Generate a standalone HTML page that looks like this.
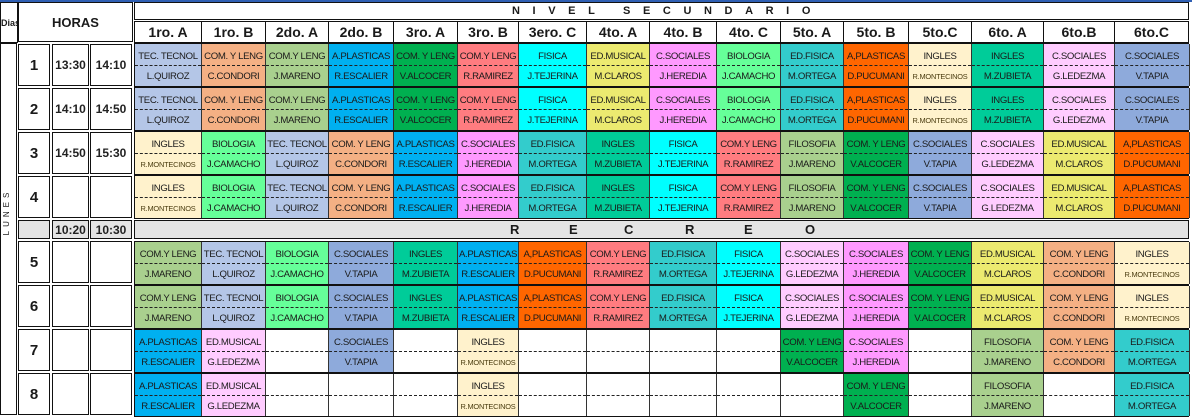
<!DOCTYPE html>
<html><head><meta charset="utf-8"><style>
*{box-sizing:border-box}
body{margin:0;width:1192px;height:413px;overflow:hidden;background:#fff;position:relative;font-family:"Liberation Sans",sans-serif;color:#1a1a1a}
.a{position:absolute;border:1px solid #111;display:flex;align-items:center;justify-content:center;white-space:nowrap;overflow:hidden}
.r{position:absolute;left:134px;width:1055px;height:44px;border-top:1px solid #111;border-bottom:1px solid #111;border-left:1px solid #111;display:grid;grid-template-columns:67px 64px 63px 65px 64px 61px 68px 63px 67px 64px 63px 65px 63px 72px 71px 75px}
.r>div{border-right:1px solid #333;overflow:hidden;display:flex;flex-direction:column}
.r p{margin:0;height:50%;display:flex;align-items:center;justify-content:center;font-size:9.6px;letter-spacing:-0.35px;white-space:nowrap}
.r p:first-child{padding-top:3px}
.r p+p{border-top:1px dashed #222}
.r p.s{font-size:7.4px;letter-spacing:-0.2px;color:#4a3c10}
.tt{background:#b4c6e7}.cc{background:#f4b084}.jm{background:#a9d08e}.re{background:#00b0f0}
.va{background:#00b050}.rr{background:#ff7c80}.jt{background:#00ffff}.mc{background:#ecea70}
.jh{background:#ff99ff}.jc{background:#66ff99}.mo{background:#33cccc}.dp{background:#ff6600}
.rm{background:#fff2cc}.mz{background:#00cc99}.gl{background:#ffccff}.vt{background:#8eaadb}.e{background:#fff}
.h{font-weight:bold;font-size:14px}
.n{font-weight:bold;font-size:15px}
.t{font-size:12px;font-weight:bold;color:#222}
</style></head><body>
<div style="position:absolute;left:0;top:0;width:1192px;height:2px;background:#2f5fb3"></div>
<div class="a" style="left:0;top:2px;width:18px;height:41px;font-size:9px;font-weight:bold;justify-content:flex-start">Dias</div>
<div class="a" style="left:18px;top:2px;width:115px;height:40px;font-weight:bold;font-size:13px">HORAS</div>
<div class="a" style="left:134px;top:2px;width:1055px;height:18px;font-weight:bold;font-size:11px;letter-spacing:12.6px;padding-left:12px">NIVEL&nbsp;SECUNDARIO</div>
<div class="a h" style="left:134px;top:21px;width:68px;height:22px">1ro. A</div>
<div class="a h" style="left:201px;top:21px;width:65px;height:22px">1ro. B</div>
<div class="a h" style="left:265px;top:21px;width:64px;height:22px">2do. A</div>
<div class="a h" style="left:328px;top:21px;width:66px;height:22px">2do. B</div>
<div class="a h" style="left:393px;top:21px;width:65px;height:22px">3ro. A</div>
<div class="a h" style="left:457px;top:21px;width:62px;height:22px">3ro. B</div>
<div class="a h" style="left:518px;top:21px;width:69px;height:22px">3ero. C</div>
<div class="a h" style="left:586px;top:21px;width:64px;height:22px">4to. A</div>
<div class="a h" style="left:649px;top:21px;width:68px;height:22px">4to. B</div>
<div class="a h" style="left:716px;top:21px;width:65px;height:22px">4to. C</div>
<div class="a h" style="left:780px;top:21px;width:64px;height:22px">5to. A</div>
<div class="a h" style="left:843px;top:21px;width:66px;height:22px">5to. B</div>
<div class="a h" style="left:908px;top:21px;width:64px;height:22px">5to.C</div>
<div class="a h" style="left:971px;top:21px;width:73px;height:22px">6to. A</div>
<div class="a h" style="left:1043px;top:21px;width:72px;height:22px">6to.B</div>
<div class="a h" style="left:1114px;top:21px;width:75px;height:22px">6to.C</div>

<div class="a" style="left:0;top:43px;width:17px;height:372px"></div>
<div style="position:absolute;left:-17px;top:206px;width:50px;height:12px;transform:rotate(-90deg);font-size:8px;letter-spacing:4px;text-align:center">LUNES</div>

<!-- left cells -->
<div class="a n" style="left:18px;top:44px;width:32px;height:42px">1</div><div class="a t" style="left:52px;top:44px;width:37px;height:42px">13:30</div><div class="a t" style="left:90px;top:44px;width:42px;height:42px">14:10</div>
<div class="a n" style="left:18px;top:88px;width:32px;height:42px">2</div><div class="a t" style="left:52px;top:88px;width:37px;height:42px">14:10</div><div class="a t" style="left:90px;top:88px;width:42px;height:42px">14:50</div>
<div class="a n" style="left:18px;top:132px;width:32px;height:42px">3</div><div class="a t" style="left:52px;top:132px;width:37px;height:42px">14:50</div><div class="a t" style="left:90px;top:132px;width:42px;height:42px">15:30</div>
<div class="a n" style="left:18px;top:176px;width:32px;height:42px">4</div><div class="a" style="left:52px;top:176px;width:37px;height:42px"></div><div class="a" style="left:90px;top:176px;width:42px;height:42px"></div>
<div class="a" style="left:18px;top:220px;width:32px;height:19px;background:#e4e4e4"></div><div class="a t" style="left:52px;top:220px;width:37px;height:19px;background:#e4e4e4">10:20</div><div class="a t" style="left:90px;top:220px;width:42px;height:19px;background:#e4e4e4">10:30</div>
<div class="a n" style="left:18px;top:241px;width:32px;height:42px">5</div><div class="a" style="left:52px;top:241px;width:37px;height:42px"></div><div class="a" style="left:90px;top:241px;width:42px;height:42px"></div>
<div class="a n" style="left:18px;top:285px;width:32px;height:42px">6</div><div class="a" style="left:52px;top:285px;width:37px;height:42px"></div><div class="a" style="left:90px;top:285px;width:42px;height:42px"></div>
<div class="a n" style="left:18px;top:329px;width:32px;height:42px">7</div><div class="a" style="left:52px;top:329px;width:37px;height:42px"></div><div class="a" style="left:90px;top:329px;width:42px;height:42px"></div>
<div class="a n" style="left:18px;top:373px;width:32px;height:42px">8</div><div class="a" style="left:52px;top:373px;width:37px;height:42px"></div><div class="a" style="left:90px;top:373px;width:42px;height:42px"></div>

<!-- recreo -->
<div class="a" style="left:134px;top:220px;width:1055px;height:19px;background:#e4e4e4"></div>
<div style="position:absolute;top:220px;height:19px;line-height:19px;font-weight:bold;font-size:13px;left:510px">R</div>
<div style="position:absolute;top:220px;height:19px;line-height:19px;font-weight:bold;font-size:13px;left:569px">E</div>
<div style="position:absolute;top:220px;height:19px;line-height:19px;font-weight:bold;font-size:13px;left:624px">C</div>
<div style="position:absolute;top:220px;height:19px;line-height:19px;font-weight:bold;font-size:13px;left:685px">R</div>
<div style="position:absolute;top:220px;height:19px;line-height:19px;font-weight:bold;font-size:13px;left:744px">E</div>
<div style="position:absolute;top:220px;height:19px;line-height:19px;font-weight:bold;font-size:13px;left:805px">O</div>

<div class="r" style="top:43px">
<div class="tt"><p>TEC. TECNOL</p><p>L.QUIROZ</p></div><div class="cc"><p>COM. Y LENG</p><p>C.CONDORI</p></div><div class="jm"><p>COM.Y LENG</p><p>J.MARENO</p></div><div class="re"><p>A.PLASTICAS</p><p>R.ESCALIER</p></div><div class="va"><p>COM. Y LENG</p><p>V.ALCOCER</p></div><div class="rr"><p>COM.Y LENG</p><p>R.RAMIREZ</p></div><div class="jt"><p>FISICA</p><p>J.TEJERINA</p></div><div class="mc"><p>ED.MUSICAL</p><p>M.CLAROS</p></div><div class="jh"><p>C.SOCIALES</p><p>J.HEREDIA</p></div><div class="jc"><p>BIOLOGIA</p><p>J.CAMACHO</p></div><div class="mo"><p>ED.FISICA</p><p>M.ORTEGA</p></div><div class="dp"><p>A,PLASTICAS</p><p>D.PUCUMANI</p></div><div class="rm"><p>INGLES</p><p class="s">R.MONTECINOS</p></div><div class="mz"><p>INGLES</p><p>M.ZUBIETA</p></div><div class="gl"><p>C.SOCIALES</p><p>G.LEDEZMA</p></div><div class="vt"><p>C.SOCIALES</p><p>V.TAPIA</p></div>
</div>
<div class="r" style="top:87px">
<div class="tt"><p>TEC. TECNOL</p><p>L.QUIROZ</p></div><div class="cc"><p>COM. Y LENG</p><p>C.CONDORI</p></div><div class="jm"><p>COM.Y LENG</p><p>J.MARENO</p></div><div class="re"><p>A.PLASTICAS</p><p>R.ESCALIER</p></div><div class="va"><p>COM. Y LENG</p><p>V.ALCOCER</p></div><div class="rr"><p>COM.Y LENG</p><p>R.RAMIREZ</p></div><div class="jt"><p>FISICA</p><p>J.TEJERINA</p></div><div class="mc"><p>ED.MUSICAL</p><p>M.CLAROS</p></div><div class="jh"><p>C.SOCIALES</p><p>J.HEREDIA</p></div><div class="jc"><p>BIOLOGIA</p><p>J.CAMACHO</p></div><div class="mo"><p>ED.FISICA</p><p>M.ORTEGA</p></div><div class="dp"><p>A,PLASTICAS</p><p>D.PUCUMANI</p></div><div class="rm"><p>INGLES</p><p class="s">R.MONTECINOS</p></div><div class="mz"><p>INGLES</p><p>M.ZUBIETA</p></div><div class="gl"><p>C.SOCIALES</p><p>G.LEDEZMA</p></div><div class="vt"><p>C.SOCIALES</p><p>V.TAPIA</p></div>
</div>
<div class="r" style="top:131px">
<div class="rm"><p>INGLES</p><p class="s">R.MONTECINOS</p></div><div class="jc"><p>BIOLOGIA</p><p>J.CAMACHO</p></div><div class="tt"><p>TEC. TECNOL</p><p>L.QUIROZ</p></div><div class="cc"><p>COM. Y LENG</p><p>C.CONDORI</p></div><div class="re"><p>A.PLASTICAS</p><p>R.ESCALIER</p></div><div class="jh"><p>C.SOCIALES</p><p>J.HEREDIA</p></div><div class="mo"><p>ED.FISICA</p><p>M.ORTEGA</p></div><div class="mz"><p>INGLES</p><p>M.ZUBIETA</p></div><div class="jt"><p>FISICA</p><p>J.TEJERINA</p></div><div class="rr"><p>COM.Y LENG</p><p>R.RAMIREZ</p></div><div class="jm"><p>FILOSOFIA</p><p>J.MARENO</p></div><div class="va"><p>COM. Y LENG</p><p>V.ALCOCER</p></div><div class="vt"><p>C.SOCIALES</p><p>V.TAPIA</p></div><div class="gl"><p>C.SOCIALES</p><p>G.LEDEZMA</p></div><div class="mc"><p>ED.MUSICAL</p><p>M.CLAROS</p></div><div class="dp"><p>A,PLASTICAS</p><p>D.PUCUMANI</p></div>
</div>
<div class="r" style="top:175px">
<div class="rm"><p>INGLES</p><p class="s">R.MONTECINOS</p></div><div class="jc"><p>BIOLOGIA</p><p>J.CAMACHO</p></div><div class="tt"><p>TEC. TECNOL</p><p>L.QUIROZ</p></div><div class="cc"><p>COM. Y LENG</p><p>C.CONDORI</p></div><div class="re"><p>A.PLASTICAS</p><p>R.ESCALIER</p></div><div class="jh"><p>C.SOCIALES</p><p>J.HEREDIA</p></div><div class="mo"><p>ED.FISICA</p><p>M.ORTEGA</p></div><div class="mz"><p>INGLES</p><p>M.ZUBIETA</p></div><div class="jt"><p>FISICA</p><p>J.TEJERINA</p></div><div class="rr"><p>COM.Y LENG</p><p>R.RAMIREZ</p></div><div class="jm"><p>FILOSOFIA</p><p>J.MARENO</p></div><div class="va"><p>COM. Y LENG</p><p>V.ALCOCER</p></div><div class="vt"><p>C.SOCIALES</p><p>V.TAPIA</p></div><div class="gl"><p>C.SOCIALES</p><p>G.LEDEZMA</p></div><div class="mc"><p>ED.MUSICAL</p><p>M.CLAROS</p></div><div class="dp"><p>A,PLASTICAS</p><p>D.PUCUMANI</p></div>
</div>
<div class="r" style="top:241px">
<div class="jm"><p>COM.Y LENG</p><p>J.MARENO</p></div><div class="tt"><p>TEC. TECNOL</p><p>L.QUIROZ</p></div><div class="jc"><p>BIOLOGIA</p><p>J.CAMACHO</p></div><div class="vt"><p>C.SOCIALES</p><p>V.TAPIA</p></div><div class="mz"><p>INGLES</p><p>M.ZUBIETA</p></div><div class="re"><p>A.PLASTICAS</p><p>R.ESCALIER</p></div><div class="dp"><p>A,PLASTICAS</p><p>D.PUCUMANI</p></div><div class="rr"><p>COM.Y LENG</p><p>R.RAMIREZ</p></div><div class="mo"><p>ED.FISICA</p><p>M.ORTEGA</p></div><div class="jt"><p>FISICA</p><p>J.TEJERINA</p></div><div class="gl"><p>C.SOCIALES</p><p>G.LEDEZMA</p></div><div class="jh"><p>C.SOCIALES</p><p>J.HEREDIA</p></div><div class="va"><p>COM. Y LENG</p><p>V.ALCOCER</p></div><div class="mc"><p>ED.MUSICAL</p><p>M.CLAROS</p></div><div class="cc"><p>COM. Y LENG</p><p>C.CONDORI</p></div><div class="rm"><p>INGLES</p><p class="s">R.MONTECINOS</p></div>
</div>
<div class="r" style="top:285px">
<div class="jm"><p>COM.Y LENG</p><p>J.MARENO</p></div><div class="tt"><p>TEC. TECNOL</p><p>L.QUIROZ</p></div><div class="jc"><p>BIOLOGIA</p><p>J.CAMACHO</p></div><div class="vt"><p>C.SOCIALES</p><p>V.TAPIA</p></div><div class="mz"><p>INGLES</p><p>M.ZUBIETA</p></div><div class="re"><p>A.PLASTICAS</p><p>R.ESCALIER</p></div><div class="dp"><p>A,PLASTICAS</p><p>D.PUCUMANI</p></div><div class="rr"><p>COM.Y LENG</p><p>R.RAMIREZ</p></div><div class="mo"><p>ED.FISICA</p><p>M.ORTEGA</p></div><div class="jt"><p>FISICA</p><p>J.TEJERINA</p></div><div class="gl"><p>C.SOCIALES</p><p>G.LEDEZMA</p></div><div class="jh"><p>C.SOCIALES</p><p>J.HEREDIA</p></div><div class="va"><p>COM. Y LENG</p><p>V.ALCOCER</p></div><div class="mc"><p>ED.MUSICAL</p><p>M.CLAROS</p></div><div class="cc"><p>COM. Y LENG</p><p>C.CONDORI</p></div><div class="rm"><p>INGLES</p><p class="s">R.MONTECINOS</p></div>
</div>
<div class="r" style="top:329px">
<div class="re"><p>A.PLASTICAS</p><p>R.ESCALIER</p></div><div class="gl"><p>ED.MUSICAL</p><p>G.LEDEZMA</p></div><div class="e"><p></p><p></p></div><div class="vt"><p>C.SOCIALES</p><p>V.TAPIA</p></div><div class="e"><p></p><p></p></div><div class="rm"><p>INGLES</p><p class="s">R.MONTECINOS</p></div><div class="e"><p></p><p></p></div><div class="e"><p></p><p></p></div><div class="e"><p></p><p></p></div><div class="e"><p></p><p></p></div><div class="va"><p>COM. Y LENG</p><p>V.ALCOCER</p></div><div class="jh"><p>C.SOCIALES</p><p>J.HEREDIA</p></div><div class="e"><p></p><p></p></div><div class="jm"><p>FILOSOFIA</p><p>J.MARENO</p></div><div class="cc"><p>COM. Y LENG</p><p>C.CONDORI</p></div><div class="mo"><p>ED.FISICA</p><p>M.ORTEGA</p></div>
</div>
<div class="r" style="top:373px">
<div class="re"><p>A.PLASTICAS</p><p>R.ESCALIER</p></div><div class="gl"><p>ED.MUSICAL</p><p>G.LEDEZMA</p></div><div class="e"><p></p><p></p></div><div class="e"><p></p><p></p></div><div class="e"><p></p><p></p></div><div class="rm"><p>INGLES</p><p class="s">R.MONTECINOS</p></div><div class="e"><p></p><p></p></div><div class="e"><p></p><p></p></div><div class="e"><p></p><p></p></div><div class="e"><p></p><p></p></div><div class="e"><p></p><p></p></div><div class="va"><p>COM. Y LENG</p><p>V.ALCOCER</p></div><div class="e"><p></p><p></p></div><div class="jm"><p>FILOSOFIA</p><p>J.MARENO</p></div><div class="e"><p></p><p></p></div><div class="mo"><p>ED.FISICA</p><p>M.ORTEGA</p></div>
</div>
</body></html>
